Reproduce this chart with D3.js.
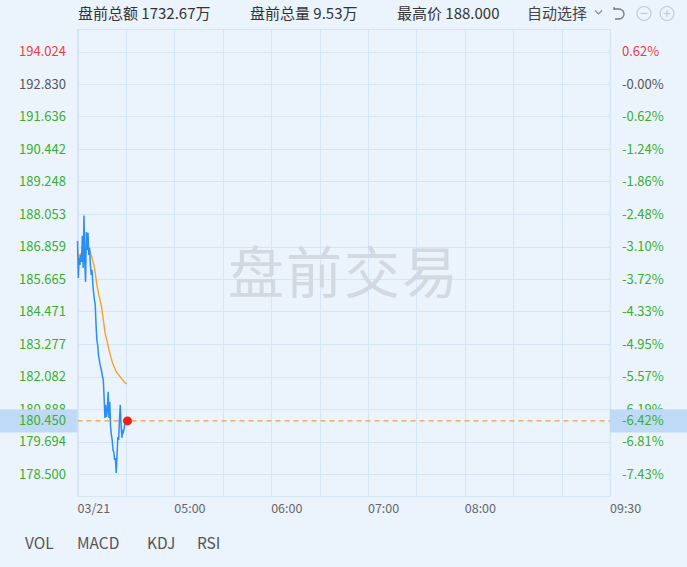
<!DOCTYPE html>
<html>
<head>
<meta charset="utf-8">
<script src="https://cdn.jsdelivr.net/npm/d3@7"></script>
<style>
html,body{margin:0;padding:0;background:#ebf3fd;}
svg{display:block;}
text{font-family:"Noto Sans CJK SC","Noto Sans",sans-serif;}
</style>
</head>
<body>
<svg id="chart" width="687" height="567"></svg>
<script>
// ---- data ----
const prevClose = 192.830;
const lastPrice = 180.450;
const priceTicks = [194.024,192.830,191.636,190.442,189.248,188.053,186.859,185.665,184.471,183.277,182.082,180.888,179.694,178.500];
const pctLabels = ["0.62%","-0.00%","-0.62%","-1.24%","-1.86%","-2.48%","-3.10%","-3.72%","-4.33%","-4.95%","-5.57%","-6.19%","-6.81%","-7.43%"];
const lastPctLabel = "-6.42%";
const gridMinutes = [0,30,60,90,120,150,180,210,240,270,300,330];
const xTickMinutes = [0,60,120,180,240,330];
const xTickLabels = ["03/21","05:00","06:00","07:00","08:00","09:30"];
// minutes after 04:00
const times = [0,0.5,1,1.5,2,2.5,3,3.5,4,4.5,5,5.5,6,6.5,7,7.5,8,8.5,9,9.5,10,10.5,11,11.5,12,12.5,13,13.5,14,14.5,15,15.5,16,16.5,17,17.5,18,18.5,19,19.5,20,20.5,21,21.5,22,22.5,23,23.5,24,24.5,25,25.5,26,26.5,27,27.5,28,28.5,29,29.5,30,30.5];
const prices = [187.06,185.70,186.44,186.18,186.55,186.29,187.25,186.07,188.00,186.29,185.56,187.39,186.73,187.36,186.55,186.81,186.18,185.81,186.00,185.45,185.15,184.90,184.71,183.98,183.43,183.24,182.87,182.69,182.51,182.40,182.25,182.07,181.96,181.29,180.56,181.04,180.60,180.85,181.52,180.56,181.15,180.23,179.94,179.75,179.38,179.31,179.02,179.09,178.54,179.20,179.86,179.75,180.49,181.04,180.30,179.83,180.12,180.05,180.23,180.38,180.34,180.45];
const avgPrices = [186.73,186.51,186.44,186.55,186.58,186.62,186.69,186.73,186.80,186.77,186.69,186.73,186.77,186.77,186.73,186.69,186.62,186.55,186.44,186.33,186.22,186.07,185.89,185.67,185.45,185.30,185.15,185.01,184.90,184.75,184.60,184.38,184.16,183.94,183.72,183.57,183.46,183.35,183.21,183.06,182.95,182.84,182.73,182.62,182.54,182.47,182.40,182.32,182.27,182.21,182.18,182.14,182.10,182.07,182.03,181.99,181.96,181.92,181.88,181.85,181.83,181.81];
const headerItems = [["盘前总额","1732.67万"],["盘前总量","9.53万"],["最高价","188.000"]];
const headerX = [78,250,397];
const selectLabel = "自动选择";
const tabs = ["VOL","MACD","KDJ","RSI"];
const tabX = [25,77,147,197];
const watermark = "盘前交易";

// ---- layout ----
const W = 687, H = 567;
const L = 77.5, R = 610, T = 29, B = 496;
const svg = d3.select("#chart");
const cUp = "#f23b3b", cDown = "#3aae2f", cFlat = "#555", cGrid = "#d4e5f8";

svg.append("rect").attr("width",W).attr("height",H).attr("fill","#ebf3fd");

const x = d3.scaleLinear().domain([0,330]).range([L,R]);
const y = d3.scaleLinear().domain([178.5,194.024]).range([474,51.5]);

// grid
const g = svg.append("g");
g.selectAll("line.v").data(gridMinutes).join("line")
  .attr("x1",d=>Math.round(x(d))+0.5).attr("x2",d=>Math.round(x(d))+0.5)
  .attr("y1",T).attr("y2",B).attr("stroke",cGrid).attr("stroke-width",1);
g.selectAll("line.h").data(priceTicks).join("line")
  .attr("x1",L).attr("x2",R)
  .attr("y1",d=>Math.round(y(d))+0.5).attr("y2",d=>Math.round(y(d))+0.5)
  .attr("stroke",cGrid).attr("stroke-width",1);
g.append("rect").attr("x",L).attr("y",T+0.5).attr("width",R-L).attr("height",B-T)
  .attr("fill","none").attr("stroke",cGrid);

// watermark
svg.append("text").attr("x",344).attr("y",268).attr("text-anchor","middle")
  .attr("dominant-baseline","central").attr("font-size",56).attr("fill","#d3d9e0")
  .attr("letter-spacing",2).text(watermark);

// left / right labels
const colorFor = v => Math.abs(v-prevClose)<0.0005 ? cFlat : (v>prevClose ? cUp : cDown);
svg.append("g").selectAll("text").data(priceTicks).join("text")
  .attr("x",66).attr("y",d=>y(d)).attr("dy","0.35em").attr("text-anchor","end")
  .attr("font-size",13).attr("fill",d=>colorFor(d)).text(d=>d.toFixed(3));
svg.append("g").selectAll("text").data(priceTicks).join("text")
  .attr("x",622).attr("y",d=>y(d)).attr("dy","0.35em").attr("text-anchor","start")
  .attr("font-size",13).attr("fill",d=>colorFor(d)).text((d,i)=>pctLabels[i]);

// x labels
svg.append("g").selectAll("text").data(xTickMinutes).join("text")
  .attr("x",d=>x(d)).attr("y",509).attr("dy","0.35em").attr("text-anchor","start")
  .attr("font-size",12.5).attr("fill","#666").text((d,i)=>xTickLabels[i]);

// current price line + boxes
const yl = y(lastPrice);
svg.append("line").attr("x1",L).attr("x2",R).attr("y1",yl).attr("y2",yl)
  .attr("stroke","#f5a230").attr("stroke-width",1.2).attr("stroke-dasharray","5,4");
svg.append("rect").attr("x",0).attr("y",yl-11.5).attr("width",L).attr("height",23).attr("fill","#bfdaf7");
svg.append("rect").attr("x",R).attr("y",yl-11.5).attr("width",W-R).attr("height",23).attr("fill","#bfdaf7");
svg.append("text").attr("x",66).attr("y",yl).attr("dy","0.35em").attr("text-anchor","end")
  .attr("font-size",13).attr("fill",cDown).text(lastPrice.toFixed(3));
svg.append("text").attr("x",622).attr("y",yl).attr("dy","0.35em").attr("text-anchor","start")
  .attr("font-size",13).attr("fill",cDown).text(lastPctLabel);

// lines
const avgLine = d3.line().x((d,i)=>x(times[i])).y(d=>y(d));
svg.append("path").datum(avgPrices).attr("d",avgLine).attr("fill","none")
  .attr("stroke","#f5a32a").attr("stroke-width",1.4);
svg.append("path").datum(prices).attr("d",avgLine).attr("fill","none")
  .attr("stroke","#2a8ef5").attr("stroke-width",1.5);
svg.append("circle").attr("cx",x(times[times.length-1])+0.8).attr("cy",y(prices[prices.length-1]))
  .attr("r",4.5).attr("fill","#f21d1d");

// header
const hdr = svg.append("g");
headerItems.forEach((it,i)=>{
  hdr.append("text").attr("x",headerX[i]).attr("y",14).attr("dy","0.35em")
    .attr("font-size",15).attr("fill","#333").text(it[0]+" "+it[1]);
});
hdr.append("text").attr("x",527).attr("y",14).attr("dy","0.35em")
  .attr("font-size",15).attr("fill","#444").text(selectLabel);
hdr.append("path").attr("d","M595,10.5 L598.5,14 L602,10.5").attr("fill","none").attr("stroke","#888").attr("stroke-width",1.1);
hdr.append("path").attr("d","M614,7 V10 M614,9 H619 A5,5 0 0 1 619,19 H615").attr("fill","none").attr("stroke","#777").attr("stroke-width",1.3);
[644,667].forEach((cx,i)=>{
  hdr.append("circle").attr("cx",cx).attr("cy",13.5).attr("r",7).attr("fill","none").attr("stroke","#c2c8cf").attr("stroke-width",1.1);
  hdr.append("line").attr("x1",cx-3.5).attr("x2",cx+3.5).attr("y1",13.5).attr("y2",13.5).attr("stroke","#c2c8cf").attr("stroke-width",1.1);
  if(i===1) hdr.append("line").attr("x1",cx).attr("x2",cx).attr("y1",10).attr("y2",17).attr("stroke","#c2c8cf").attr("stroke-width",1.1);
});

// tabs
svg.append("g").selectAll("text").data(tabs).join("text")
  .attr("x",(d,i)=>tabX[i]).attr("y",544).attr("dy","0.35em")
  .attr("font-size",15.5).attr("fill","#555").text(d=>d);
</script>
</body>
</html>
